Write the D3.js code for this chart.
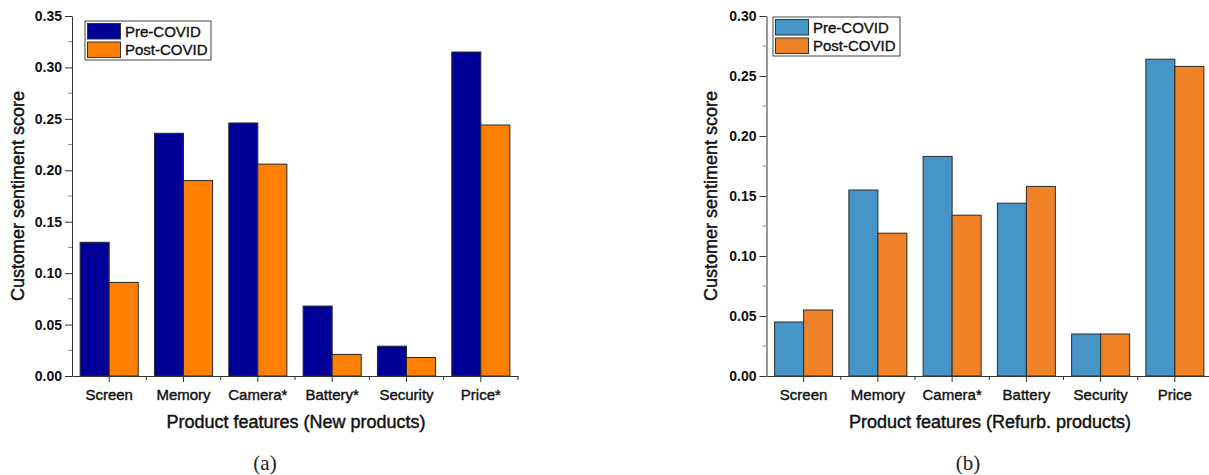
<!DOCTYPE html>
<html>
<head>
<meta charset="utf-8">
<script src="https://cdn.jsdelivr.net/npm/d3@7"></script>
<style>
  html, body { margin: 0; padding: 0; background: #fff; }
  svg text { font-family: "Liberation Sans", Arial, sans-serif; }
  svg text.tick-num { font-size: 14px; font-weight: bold; fill: #111; }
  svg text.cat-label { font-size: 15px; fill: #111; stroke: #111; stroke-width: 0.4px; }
  svg text.axis-title { font-size: 18px; fill: #111; stroke: #111; stroke-width: 0.45px; }
  svg text.legend-text { font-size: 15px; fill: #111; stroke: #111; stroke-width: 0.35px; }
  svg text.caption { font-family: "Liberation Serif", "Times New Roman", serif; font-size: 21px; fill: #222; }
</style>
</head>
<body>
<svg id="chart" width="1209" height="475"></svg>
<script>
// Data
const seriesNames = ["Pre-COVID", "Post-COVID"];

const categoriesNew = ["Screen", "Memory", "Camera*", "Battery*", "Security", "Price*"];
const newPre  = [0.130, 0.236, 0.246, 0.068, 0.029, 0.315];
const newPost = [0.091, 0.190, 0.206, 0.021, 0.018, 0.244];

const categoriesRefurb = ["Screen", "Memory", "Camera*", "Battery", "Security", "Price"];
const refurbPre  = [0.045, 0.155, 0.183, 0.144, 0.035, 0.264];
const refurbPost = [0.055, 0.119, 0.134, 0.158, 0.035, 0.258];

const svg = d3.select("#chart");

// one panel of the figure
function drawPanel(cfg) {
  const g = svg.append("g");
  const baseY = 376, topY = 16;

  const y = d3.scaleLinear().domain([0, cfg.yMax]).range([baseY, topY]);
  const x0 = d3.scaleBand().domain(cfg.categories).range([cfg.left, cfg.right]).padding(0);
  const x1 = d3.scaleBand().domain(seriesNames).range([0, x0.bandwidth()])
    .paddingInner(0).paddingOuter(0.28);

  const rows = cfg.categories.map((c, i) => ({ cat: c, values: [cfg.pre[i], cfg.post[i]] }));

  // bars
  g.selectAll("g.grp")
    .data(rows)
    .enter().append("g")
    .attr("class", "grp")
    .attr("transform", d => `translate(${x0(d.cat)},0)`)
    .selectAll("rect")
    .data(d => d.values.map((v, k) => ({ key: seriesNames[k], v })))
    .enter().append("rect")
    .attr("x", d => x1(d.key))
    .attr("y", d => y(d.v))
    .attr("width", x1.bandwidth())
    .attr("height", d => baseY - y(d.v))
    .attr("fill", (d, k) => cfg.colors[k])
    .attr("stroke", "#2a2a2a")
    .attr("stroke-width", 1);

  // y axis
  const yTicks = d3.range(0, cfg.yMax + 1e-9, 0.05);
  const yAxis = g.append("g")
    .attr("transform", `translate(${cfg.left},0)`)
    .call(d3.axisLeft(y).tickValues(yTicks).tickFormat(d3.format(".2f")).tickSize(7).tickPadding(3).tickSizeOuter(0));
  yAxis.select(".domain").attr("stroke", "#333");
  yAxis.selectAll(".tick line").attr("stroke", "#333");
  yAxis.selectAll(".tick text").attr("class", "tick-num");

  // minor y ticks
  const minor = d3.range(0.025, cfg.yMax, 0.05);
  g.selectAll("line.ymin")
    .data(minor)
    .enter().append("line")
    .attr("x1", cfg.left - 4).attr("x2", cfg.left)
    .attr("y1", d => y(d)).attr("y2", d => y(d))
    .attr("stroke", "#888");

  // x axis
  const xAxis = g.append("g")
    .attr("transform", `translate(0,${baseY})`)
    .call(d3.axisBottom(x0).tickSize(6).tickPadding(7).tickSizeOuter(0));
  xAxis.select(".domain").attr("stroke", "#333");
  xAxis.selectAll(".tick line").attr("stroke", "#333");
  xAxis.selectAll(".tick text").attr("class", "cat-label");

  // minor x ticks at group boundaries
  g.selectAll("line.xmin")
    .data(cfg.categories.slice(1).concat(["__end"]))
    .enter().append("line")
    .attr("x1", (d, i) => cfg.left + x0.step() * (i + 1))
    .attr("x2", (d, i) => cfg.left + x0.step() * (i + 1))
    .attr("y1", baseY).attr("y2", baseY + 4)
    .attr("stroke", "#333");

  // axis titles
  g.append("text")
    .attr("class", "axis-title")
    .attr("transform", `translate(${cfg.yTitleX},196) rotate(-90)`)
    .attr("text-anchor", "middle")
    .attr("dominant-baseline", "central")
    .text("Customer sentiment score");

  g.append("text")
    .attr("class", "axis-title")
    .attr("x", cfg.xTitleX)
    .attr("y", 428)
    .attr("text-anchor", "middle")
    .text(cfg.xTitle);

  // legend
  const lg = g.append("g").attr("transform", `translate(${cfg.legend[0]},${cfg.legend[1]})`);
  lg.append("rect")
    .attr("width", cfg.legend[2]).attr("height", 39)
    .attr("fill", "#fff").attr("stroke", "#444");
  seriesNames.forEach((s, k) => {
    lg.append("rect")
      .attr("x", 2.5).attr("y", 2.5 + k * 18.5)
      .attr("width", 33).attr("height", 15.5)
      .attr("fill", cfg.colors[k]).attr("stroke", "#333");
    lg.append("text")
      .attr("class", "legend-text")
      .attr("x", 40).attr("y", 15.5 + k * 18.5)
      .text(s);
  });

  // caption
  svg.append("text")
    .attr("class", "caption")
    .attr("x", cfg.captionX).attr("y", 470)
    .attr("text-anchor", "middle")
    .text(cfg.caption);
}

drawPanel({
  categories: categoriesNew, pre: newPre, post: newPost,
  yMax: 0.35, left: 72, right: 518,
  colors: ["#000099", "#ff8000"],
  yTitleX: 18, xTitleX: 296, xTitle: "Product features (New products)",
  legend: [85, 21, 126], captionX: 265, caption: "(a)"
});

drawPanel({
  categories: categoriesRefurb, pre: refurbPre, post: refurbPost,
  yMax: 0.30, left: 766.5, right: 1212,
  colors: ["#4596c6", "#ef8226"],
  yTitleX: 711, xTitleX: 990, xTitle: "Product features (Refurb. products)",
  legend: [773, 17, 127], captionX: 968, caption: "(b)"
});
</script>
</body>
</html>
